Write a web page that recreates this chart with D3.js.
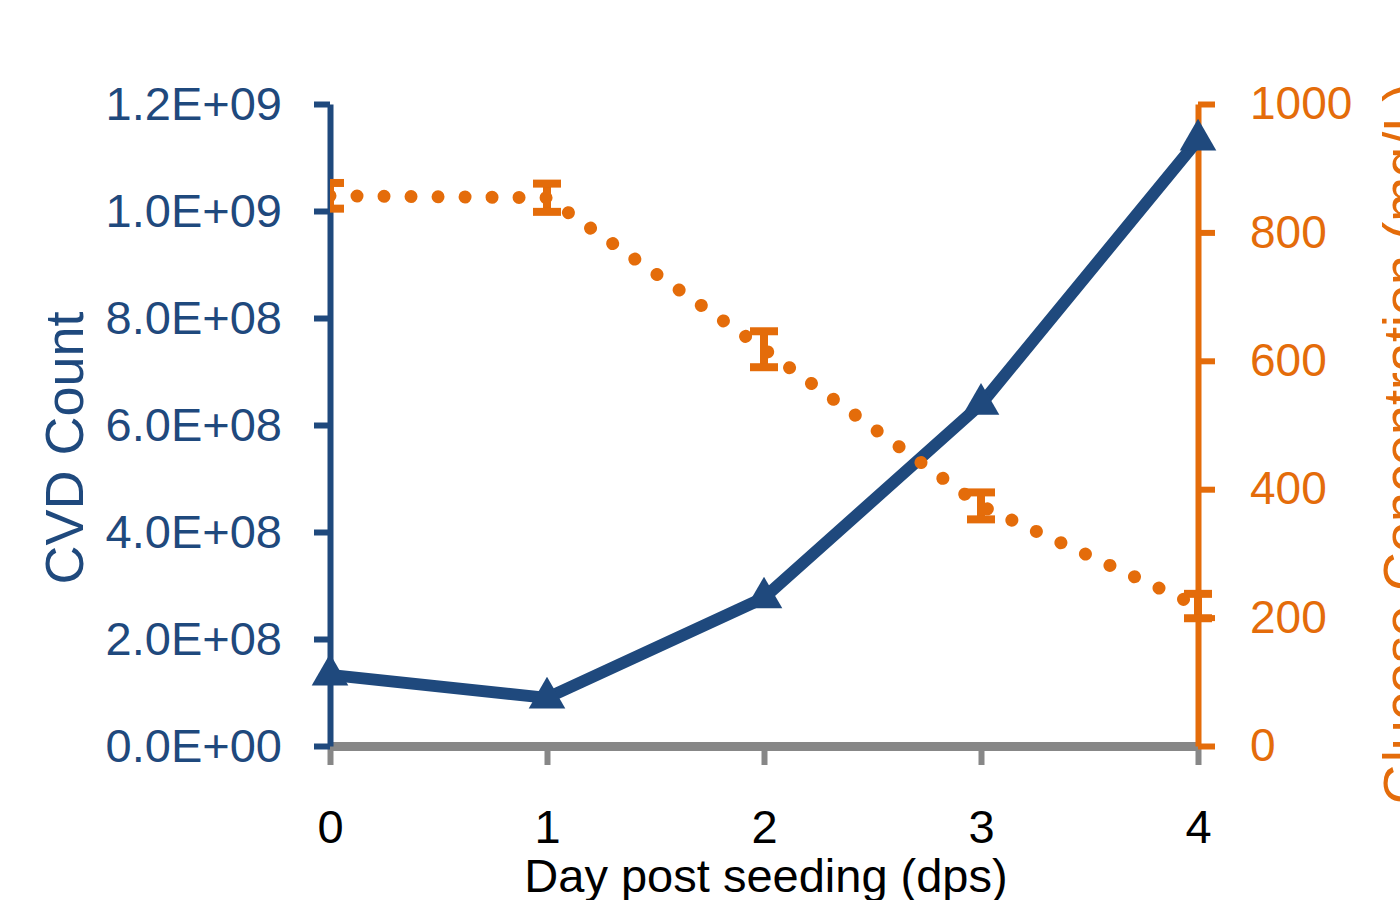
<!DOCTYPE html>
<html>
<head>
<meta charset="utf-8">
<script src="https://cdn.jsdelivr.net/npm/d3@7"></script>
<style>
  html, body { margin: 0; padding: 0; background: #fff; overflow: hidden; }
  svg { display: block; font-family: "Liberation Sans", Arial, sans-serif; }
</style>
</head>
<body>
<div id="chart"></div>
<script>
// data
const days = [0, 1, 2, 3, 4];
const cvdCount = [1.33e8, 0.9e8, 2.77e8, 6.39e8, 1.133e9];
const glucose = [857, 854, 618, 374, 218];
const glucoseErr = [20, 22, 28, 21, 19];
const leftTicks = [0, 2e8, 4e8, 6e8, 8e8, 1.0e9, 1.2e9];
const rightTicks = [0, 200, 400, 600, 800, 1000];

const blue = "#1f497d";
const orange = "#e46c0a";
const grey = "#878787";

const W = 1400, H = 900;
const svg = d3.select("#chart").append("svg")
  .attr("width", W).attr("height", H);

const x = d3.scaleLinear().domain([0, 4]).range([330, 1198]);
const yL = d3.scaleLinear().domain([0, 1.2e9]).range([746, 104]);
const yR = d3.scaleLinear().domain([0, 1000]).range([746, 104]);

// 1.2E+09 style
function sci(v) {
  const parts = d3.format(".1e")(v).split("e");
  const e = parts[1];
  return parts[0] + "E" + e[0] + e.slice(1).padStart(2, "0");
}

// x axis (grey)
const gx = svg.append("g")
  .attr("transform", "translate(0,746)")
  .call(d3.axisBottom(x).tickValues(days).tickSize(19).tickSizeOuter(0).tickPadding(45).tickFormat(d3.format("d")));
gx.select(".domain").attr("stroke", grey).attr("stroke-width", 9);
gx.selectAll(".tick line").attr("stroke", grey).attr("stroke-width", 6);
gx.selectAll(".tick text").attr("fill", "#000").style("font-size", "47px");

// left axis (blue)
const gl = svg.append("g")
  .attr("transform", "translate(330,0)")
  .call(d3.axisLeft(yL).tickValues(leftTicks).tickSize(16).tickSizeOuter(0).tickPadding(32).tickFormat(sci));
gl.select(".domain").attr("stroke", blue).attr("stroke-width", 6);
gl.selectAll(".tick line").attr("stroke", blue).attr("stroke-width", 6);
gl.selectAll(".tick text").attr("fill", blue).style("font-size", "47px");

// right axis (orange)
const gr = svg.append("g")
  .attr("transform", "translate(1198,0)")
  .call(d3.axisRight(yR).tickValues(rightTicks).tickSize(17).tickSizeOuter(0).tickPadding(35).tickFormat(d3.format("d")));
gr.select(".domain").attr("stroke", orange).attr("stroke-width", 6);
gr.selectAll(".tick line").attr("stroke", orange).attr("stroke-width", 6);
gr.selectAll(".tick text").attr("fill", orange).style("font-size", "46px");

// titles
svg.append("text")
  .attr("x", 766).attr("y", 892)
  .attr("text-anchor", "middle")
  .style("font-size", "47px")
  .attr("fill", "#000")
  .text("Day post seeding (dps)");

svg.append("text")
  .attr("transform", "translate(83,448) rotate(-90)")
  .attr("text-anchor", "middle")
  .style("font-size", "54px")
  .attr("fill", blue)
  .text("CVD Count");

svg.append("text")
  .attr("transform", "translate(1421,444) rotate(-90)")
  .attr("text-anchor", "middle")
  .style("font-size", "54px")
  .attr("fill", orange)
  .text("Glucose Concentration (mg/L)");

// CVD count series
const cvd = days.map((d, i) => ({ d, v: cvdCount[i] }));
svg.append("path")
  .datum(cvd)
  .attr("fill", "none")
  .attr("stroke", blue)
  .attr("stroke-width", 12)
  .attr("stroke-linejoin", "round")
  .attr("d", d3.line().x(p => x(p.d)).y(p => yL(p.v)));

svg.selectAll(".tri").data(cvd).join("path")
  .attr("class", "tri")
  .attr("fill", blue)
  .attr("transform", p => `translate(${x(p.d)},${yL(p.v)})`)
  .attr("d", d3.symbol().type(d3.symbolTriangle).size(580));

// glucose series
const glu = days.map((d, i) => ({ d, v: glucose[i], e: glucoseErr[i] }));
svg.append("clipPath").attr("id", "plotclip")
  .append("rect").attr("x", 330).attr("y", 0).attr("width", W - 330).attr("height", H);

const gg = svg.append("g").attr("clip-path", "url(#plotclip)");

gg.append("path")
  .datum(glu)
  .attr("fill", "none")
  .attr("stroke", orange)
  .attr("stroke-width", 13)
  .attr("stroke-linecap", "round")
  .attr("stroke-dasharray", "0.01 27")
  .attr("d", d3.line().x(p => x(p.d)).y(p => yR(p.v)));

const eb = gg.selectAll(".err").data(glu).join("g").attr("class", "err")
  .attr("stroke", orange).attr("stroke-width", 8);
eb.append("line")
  .attr("x1", p => x(p.d)).attr("x2", p => x(p.d))
  .attr("y1", p => yR(p.v + p.e)).attr("y2", p => yR(p.v - p.e));
eb.append("line")
  .attr("x1", p => x(p.d) - 14).attr("x2", p => x(p.d) + 14)
  .attr("y1", p => yR(p.v + p.e)).attr("y2", p => yR(p.v + p.e));
eb.append("line")
  .attr("x1", p => x(p.d) - 14).attr("x2", p => x(p.d) + 14)
  .attr("y1", p => yR(p.v - p.e)).attr("y2", p => yR(p.v - p.e));
</script>
</body>
</html>
